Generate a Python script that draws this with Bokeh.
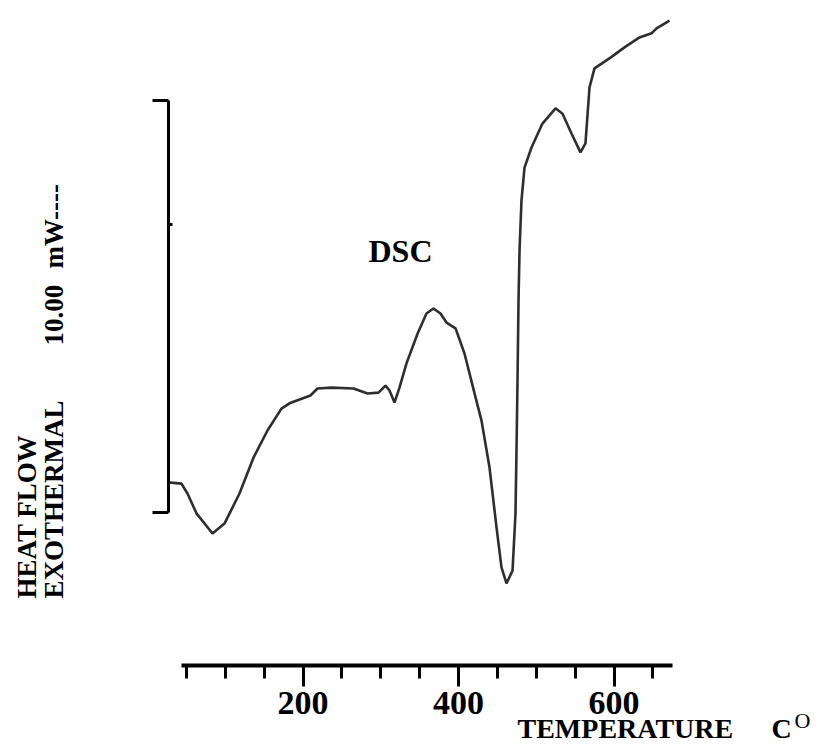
import math
from bokeh.plotting import figure
from bokeh.models import Range1d, FixedTicker, Label
from bokeh.embed import file_html
from bokeh.resources import INLINE

# ---- data ----
temperature = [26.4, 43.7, 51.4, 63.0, 83.6, 99.0, 118.3, 136.3, 154.3, 172.3,
               182.6, 209.6, 218.6, 236.7, 265.0, 283.0, 297.1, 306.1, 311.3, 317.7,
               324.1, 333.1, 347.3, 358.8, 367.8, 376.8, 384.6, 396.2, 407.7, 420.6,
               429.6, 439.9, 448.9, 455.3, 461.7, 469.5, 473.3, 474.6, 475.9, 477.2,
               478.5, 481.0, 484.9, 493.9, 508.0, 524.8, 533.8, 545.3, 556.9, 563.3,
               568.5, 574.9, 595.5, 613.5, 632.8, 648.3, 654.7, 671.4]
heat_flow = [0.73, 0.70, 0.46, -0.02, -0.51, -0.27, 0.46, 1.33, 1.99, 2.52,
             2.65, 2.84, 3.01, 3.03, 3.01, 2.89, 2.91, 3.08, 2.96, 2.67,
             3.03, 3.62, 4.34, 4.83, 4.95, 4.83, 4.61, 4.47, 3.86, 2.89,
             2.23, 1.09, -0.36, -1.33, -1.72, -1.41, -0.02, 1.50, 3.20, 5.15,
             6.36, 7.57, 8.37, 8.86, 9.44, 9.81, 9.68, 9.20, 8.74, 8.96,
             10.32, 10.78, 11.04, 11.29, 11.53, 11.63, 11.75, 11.94]

x_major_ticks = [200, 400, 600]
x_minor_ticks = [50, 100, 150, 250, 300, 350, 450, 500, 550, 650]
x_axis_bounds = (44, 675)
scale_bar = [0, 10]      # 10.00 mW scale bar
scale_mark = [7]

FONT = "Liberation Serif"
W, H = 811, 747

p = figure(width=W, height=H, output_backend="svg", toolbar_location=None,
           x_range=Range1d(-189.07, 854.02), y_range=Range1d(-5.704, 12.427),
           min_border=0)
p.outline_line_color = None
p.xgrid.visible = False
p.ygrid.visible = False
p.background_fill_color = "white"
p.border_fill_color = "white"

p.line(temperature, heat_flow, line_color="#2e2e2e", line_width=2.6)

# bottom axis (temperature)
xa = p.xaxis[0]
xa.fixed_location = -3.714
xa.ticker = FixedTicker(ticks=x_major_ticks, minor_ticks=x_minor_ticks)
xa.bounds = x_axis_bounds
xa.axis_line_width = 4
xa.axis_line_color = "black"
xa.major_tick_line_width = 3
xa.minor_tick_line_width = 3
xa.major_tick_out = 21
xa.major_tick_in = 0
xa.minor_tick_out = 13
xa.minor_tick_in = 0
xa.major_label_text_font = FONT
xa.major_label_text_font_style = "bold"
xa.major_label_text_font_size = "34px"
xa.major_label_text_color = "black"
xa.major_label_standoff = 5

# left scale bar (heat flow)
ya = p.yaxis[0]
ya.fixed_location = temperature[0]
ya.ticker = FixedTicker(ticks=scale_bar, minor_ticks=scale_mark)
ya.bounds = (scale_bar[0], scale_bar[1])
ya.axis_line_width = 3
ya.axis_line_color = "black"
ya.major_tick_line_width = 3
ya.major_tick_out = 16
ya.major_tick_in = 0
ya.minor_tick_in = 4
ya.minor_tick_out = 0
ya.minor_tick_line_width = 3
ya.major_label_overrides = {0: "", 10: ""}
ya.major_label_text_color = None

# texts (screen units, frame == whole canvas)
def lab(text, x, y_from_top, size, angle=0, align="left", baseline="middle", style="bold"):
    p.add_layout(Label(x=x, y=H - y_from_top, x_units="screen", y_units="screen", text=text,
                       angle=angle, text_align=align, text_baseline=baseline,
                       text_font=FONT, text_font_style=style,
                       text_font_size=f"{size}px", text_color="black"))

lab("DSC", 400, 250, 32, align="center")
lab("TEMPERATURE", 517, 728, 28)
lab("C", 771, 728, 28)
lab("O", 794, 720, 22, style="normal")
lab("HEAT FLOW", 26, 598, 27, angle=math.pi / 2)
lab("EXOTHERMAL", 53, 598, 27, angle=math.pi / 2)
lab("10.00", 53, 345, 27, angle=math.pi / 2)
lab("mW----", 53, 268, 27, angle=math.pi / 2)

open("out.html", "w").write(file_html(p, INLINE))
